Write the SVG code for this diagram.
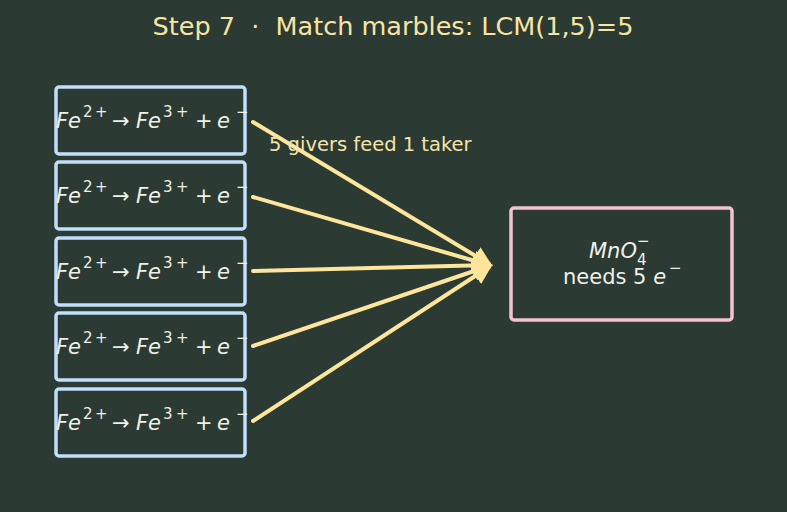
<svg xmlns="http://www.w3.org/2000/svg" width="787" height="512" viewBox="0 0 787 512">
<style>
.bg{fill:#2b3a33}
.giver{fill:#2b3a33;stroke:#c2defa;stroke-width:3.5}
.taker{fill:#2b3a33;stroke:#f5c3cf;stroke-width:3.5}
.eq{font-family:"DejaVu Sans",sans-serif;font-size:21px;fill:#f0f0ea}
.it{font-style:italic}
.sup{font-size:15px}
.conn{stroke:#fde59c;stroke-width:4;fill:none;stroke-linecap:round}
.lbl{font-family:"DejaVu Sans",sans-serif;font-size:19.5px;fill:#f6e4a8}
.title{font-family:"DejaVu Sans",sans-serif;font-size:25.5px;fill:#f9e4a3}
</style>
<defs>
<marker id="ah" viewBox="0 0 10 10" refX="8" refY="5" markerWidth="5" markerHeight="5" orient="auto" markerUnits="strokeWidth">
<path d="M0,0 L10,5 L0,10 z" fill="#fde59c"/>
</marker>
</defs>
<rect class="bg" x="0" y="0" width="787" height="512"/>
<text class="title" x="393" y="35" text-anchor="middle" xml:space="preserve">Step 7  ·  Match marbles: LCM(1,5)=5</text>
<g id="connectors">
<line class="conn" x1="253" y1="122" x2="489" y2="264" marker-end="url(#ah)"/>
<line class="conn" x1="253" y1="197" x2="489" y2="265" marker-end="url(#ah)"/>
<line class="conn" x1="253" y1="271" x2="489" y2="265" marker-end="url(#ah)"/>
<line class="conn" x1="253" y1="346" x2="489" y2="266" marker-end="url(#ah)"/>
<line class="conn" x1="253" y1="421" x2="489" y2="267" marker-end="url(#ah)"/>
<text class="lbl" x="269" y="151">5 givers feed 1 taker</text>
</g>
<g id="giver1">
<rect class="giver" x="56" y="87" width="189" height="67" rx="3"/>
<text class="eq"><tspan class="it" x="56" y="128">Fe</tspan><tspan class="sup" x="83" y="117">2</tspan><tspan class="sup" x="95" y="117">+</tspan><tspan x="112" y="128">→</tspan><tspan class="it" x="136" y="128">Fe</tspan><tspan class="sup" x="163" y="117">3</tspan><tspan class="sup" x="176" y="117">+</tspan><tspan x="195" y="128">+</tspan><tspan class="it" x="217" y="128">e</tspan><tspan class="sup" x="236" y="117">−</tspan></text>
</g>
<g id="giver2">
<rect class="giver" x="56" y="162" width="189" height="67" rx="3"/>
<text class="eq"><tspan class="it" x="56" y="203">Fe</tspan><tspan class="sup" x="83" y="192">2</tspan><tspan class="sup" x="95" y="192">+</tspan><tspan x="112" y="203">→</tspan><tspan class="it" x="136" y="203">Fe</tspan><tspan class="sup" x="163" y="192">3</tspan><tspan class="sup" x="176" y="192">+</tspan><tspan x="195" y="203">+</tspan><tspan class="it" x="217" y="203">e</tspan><tspan class="sup" x="236" y="192">−</tspan></text>
</g>
<g id="giver3">
<rect class="giver" x="56" y="238" width="189" height="67" rx="3"/>
<text class="eq"><tspan class="it" x="56" y="279">Fe</tspan><tspan class="sup" x="83" y="268">2</tspan><tspan class="sup" x="95" y="268">+</tspan><tspan x="112" y="279">→</tspan><tspan class="it" x="136" y="279">Fe</tspan><tspan class="sup" x="163" y="268">3</tspan><tspan class="sup" x="176" y="268">+</tspan><tspan x="195" y="279">+</tspan><tspan class="it" x="217" y="279">e</tspan><tspan class="sup" x="236" y="268">−</tspan></text>
</g>
<g id="giver4">
<rect class="giver" x="56" y="313" width="189" height="67" rx="3"/>
<text class="eq"><tspan class="it" x="56" y="354">Fe</tspan><tspan class="sup" x="83" y="343">2</tspan><tspan class="sup" x="95" y="343">+</tspan><tspan x="112" y="354">→</tspan><tspan class="it" x="136" y="354">Fe</tspan><tspan class="sup" x="163" y="343">3</tspan><tspan class="sup" x="176" y="343">+</tspan><tspan x="195" y="354">+</tspan><tspan class="it" x="217" y="354">e</tspan><tspan class="sup" x="236" y="343">−</tspan></text>
</g>
<g id="giver5">
<rect class="giver" x="56" y="389" width="189" height="67" rx="3"/>
<text class="eq"><tspan class="it" x="56" y="430">Fe</tspan><tspan class="sup" x="83" y="419">2</tspan><tspan class="sup" x="95" y="419">+</tspan><tspan x="112" y="430">→</tspan><tspan class="it" x="136" y="430">Fe</tspan><tspan class="sup" x="163" y="419">3</tspan><tspan class="sup" x="176" y="419">+</tspan><tspan x="195" y="430">+</tspan><tspan class="it" x="217" y="430">e</tspan><tspan class="sup" x="236" y="419">−</tspan></text>
</g>
<g id="taker">
<rect class="taker" x="511" y="208" width="221" height="112" rx="3"/>
<text class="eq"><tspan class="it" x="589" y="258">MnO</tspan><tspan class="sup" x="637" y="265">4</tspan><tspan class="sup" x="637" y="246">−</tspan></text>
<text class="eq" x="563" y="284" font-size="20"><tspan>needs 5 </tspan><tspan class="it">e</tspan><tspan class="sup" x="669" y="273">−</tspan></text>
</g>
</svg>
